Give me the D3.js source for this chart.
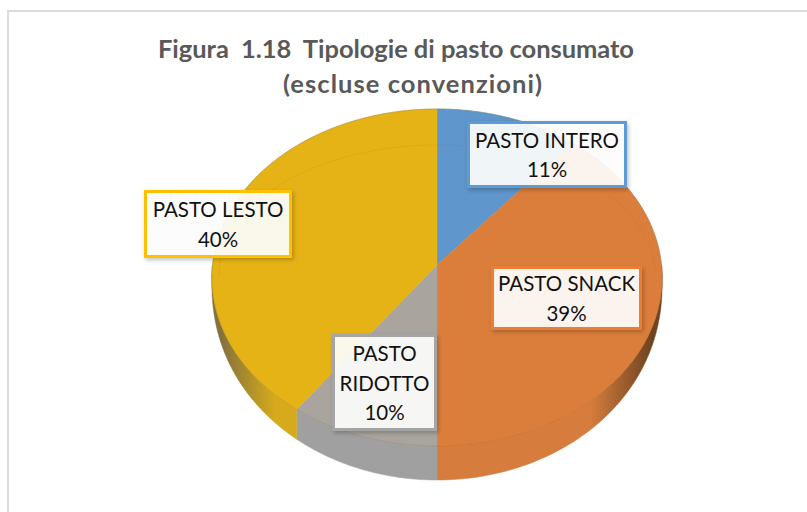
<!DOCTYPE html>
<html><head><meta charset="utf-8">
<script src="https://cdn.jsdelivr.net/npm/d3@7/dist/d3.min.js"></script>
<style>html,body{margin:0;padding:0;background:#fff}svg{display:block}text{font-family:Lato,"Open Sans",sans-serif;white-space:pre}</style>
</head><body><svg id="c" width="807" height="512"></svg>
<script>
const categories=["PASTO INTERO","PASTO SNACK","PASTO RIDOTTO","PASTO LESTO"];
const values=[11,39,10,40];
const colors=["#5f96cb","#dc7e3b","#a9a59e","#e6b316"];
const sideDark=["#4a7cab","#6e4420","#8d8d8d","#85723a"];
const sideLight=["#6a9fd0","#d67d3d","#a0a0a0","#d6aa1c"];
const borders=["#5b9bd5","#ed7d31","#a5a5a5","#ffc000"];
const labelLines=[["PASTO INTERO","11%"],["PASTO SNACK","39%"],["PASTO","RIDOTTO","10%"],["PASTO LESTO","40%"]];
const labelBoxes=[[467,121,160,67],[491,266,151,64],[332,334,105,97],[144,190,148,68]];
const titleLines=["Figura  1.18  Tipologie di pasto consumato","(escluse convenzioni)"];
const titleStarts=[158,283];
const titleWidths=[476,259];

const cx=437,cy=265,b=224.5,a=167.6,k=0.0742,depth=34;
const svg=d3.select("#c");
const defs=svg.append("defs");
const shadow=defs.append("filter").attr("id","sh").attr("x","-20%").attr("y","-20%").attr("width","145%").attr("height","145%");
shadow.append("feDropShadow").attr("dx",1.5).attr("dy",2).attr("stdDeviation",2).attr("flood-color","#000").attr("flood-opacity",.25);

// partial chart frame: only the top and left edges are visible
svg.append("path").attr("d",line0()).attr("fill","none").attr("stroke","#dcdcdc").attr("stroke-width",2);
function line0(){return d3.line()([[8,512],[8,11],[807,11]]);}

const proj=t=>{const d=1+k*Math.cos(t);return [cx+b*Math.sin(t)/d,cy-a*Math.cos(t)/d];};
const lowered=t=>{const p=proj(t);return [p[0],p[1]+depth*Math.pow(Math.abs(Math.cos(t)),0.6)];};
const line=d3.line();
const arcs=d3.pie().sort(null).value(d=>d)(values);
const samples=(s,e)=>d3.range(0,61).map(i=>s+(e-s)*i/60);

// side wall
arcs.forEach((d,i)=>{
  const s=Math.max(d.startAngle,Math.PI/2),e=Math.min(d.endAngle,3*Math.PI/2);
  if(e<=s)return;
  const ts=samples(s,e);
  const g=defs.append("linearGradient").attr("id","side"+i).attr("gradientUnits","userSpaceOnUse")
    .attr("x1",i==1?652:222).attr("x2",i==1?590:275).attr("y1",0).attr("y2",0);
  const dark=i==2?sideLight[i]:sideDark[i];
  g.append("stop").attr("offset",0).attr("stop-color",dark);
  g.append("stop").attr("offset",1).attr("stop-color",sideLight[i]);
  svg.append("path").attr("d",line(ts.map(proj).concat(ts.slice().reverse().map(lowered)))+"Z")
    .attr("fill",`url(#side${i})`).attr("stroke",`url(#side${i})`).attr("stroke-width",.5);
});
// top face
arcs.forEach((d,i)=>{
  const pts=[[cx,cy]].concat(samples(d.startAngle,d.endAngle).map(proj));
  svg.append("path").attr("d",line(pts)+"Z").attr("fill",colors[i]).attr("stroke",colors[i]).attr("stroke-width",.5);
});
// outline and faint bevel
svg.append("path").attr("d",line(samples(-Math.PI/2,Math.PI/2).map(proj))).attr("fill","none").attr("stroke","#8a7a60").attr("stroke-opacity",.4);
svg.append("path").attr("d",line(samples(-Math.PI/2,Math.PI/2).map(t=>[cx+218*Math.sin(t),275-130*Math.cos(t)]))).attr("fill","none").attr("stroke","#b8650f").attr("stroke-opacity",.14);
svg.append("path").attr("d",line(samples(Math.PI/2,3*Math.PI/2).map(proj))).attr("fill","none").attr("stroke","#6b4a10").attr("stroke-opacity",.18);

// title
svg.append("g").selectAll("text").data(titleLines).join("text")
  .attr("x",(d,i)=>titleStarts[i]).attr("y",(d,i)=>58+i*35).attr("textLength",(d,i)=>titleWidths[i]).attr("lengthAdjust","spacing")
  .attr("font-size",25.5).attr("font-weight",700).attr("fill","#595959").text(d=>d);

// labels
categories.forEach((c,i)=>{
  const [x,y,w,h]=labelBoxes[i],g=svg.append("g");
  g.append("rect").attr("x",x+1.5).attr("y",y+1.5).attr("width",w-3).attr("height",h-3)
    .attr("fill","#fff").attr("fill-opacity",.9).attr("stroke",borders[i]).attr("stroke-width",3).attr("filter","url(#sh)");
  const lines=labelLines[i],lh=29.5,top=y+h/2-(lines.length-1)*lh/2+8;
  g.selectAll("text").data(lines).join("text").attr("x",x+w/2).attr("y",(d,j)=>top+j*lh)
    .attr("text-anchor","middle").attr("font-size",20.5).attr("fill","#111").text(d=>d);
});
</script></body></html>
